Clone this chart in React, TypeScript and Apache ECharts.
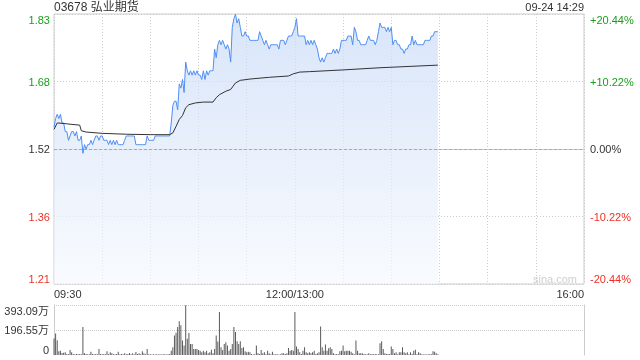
import React, { useEffect, useRef } from "react";
import * as echarts from "echarts";

const stockTitle = "03678 弘业期货";
const stampText = "09-24 14:29";
const prevClose = 1.52;
const limitPct = 20.44;
const totalMinutes = 330;

// minute-by-minute last price (09:30 ... 14:29)
const prices = [
  1.57, 1.59, 1.6, 1.59, 1.6, 1.58, 1.58, 1.56, 1.56, 1.54,
  1.55, 1.56, 1.56, 1.55, 1.56, 1.54, 1.54, 1.55, 1.51, 1.53,
  1.52, 1.53, 1.53, 1.54, 1.53, 1.54, 1.55, 1.55, 1.54, 1.55,
  1.55, 1.54, 1.54, 1.54, 1.53, 1.54, 1.53, 1.54, 1.53, 1.54,
  1.53, 1.53, 1.53, 1.53, 1.54, 1.55, 1.55, 1.55, 1.55, 1.55,
  1.55, 1.53, 1.53, 1.53, 1.53, 1.53, 1.53, 1.53, 1.55, 1.54,
  1.54, 1.54, 1.54, 1.55, 1.55, 1.55, 1.55, 1.55, 1.55, 1.55,
  1.55, 1.55, 1.55, 1.58, 1.62, 1.63, 1.63, 1.61, 1.67, 1.66,
  1.68, 1.65, 1.72, 1.7, 1.69, 1.7, 1.69, 1.7, 1.69, 1.7,
  1.69, 1.69, 1.68, 1.7, 1.68, 1.7, 1.69, 1.7, 1.7, 1.7,
  1.75, 1.73, 1.76, 1.77, 1.76, 1.77, 1.76, 1.75, 1.76, 1.75,
  1.72, 1.8, 1.82, 1.83, 1.81, 1.82, 1.8, 1.78, 1.78, 1.79,
  1.78, 1.78, 1.77, 1.77, 1.77, 1.77, 1.77, 1.77, 1.79, 1.78,
  1.77, 1.76, 1.77, 1.76, 1.75, 1.76, 1.76, 1.76, 1.76, 1.76,
  1.75, 1.77, 1.77, 1.77, 1.76, 1.77, 1.78, 1.78, 1.78, 1.79,
  1.8, 1.82, 1.78, 1.78, 1.78, 1.78, 1.78, 1.76, 1.77, 1.76,
  1.77, 1.76, 1.77, 1.76, 1.75, 1.73, 1.72, 1.73, 1.72, 1.73,
  1.74, 1.74, 1.74, 1.74, 1.75, 1.74, 1.75, 1.74, 1.75, 1.77,
  1.77, 1.77, 1.77, 1.78, 1.78, 1.78, 1.76, 1.8, 1.79, 1.77,
  1.77, 1.76, 1.76, 1.76, 1.76, 1.77, 1.78, 1.77, 1.77, 1.77,
  1.76, 1.77, 1.79, 1.81, 1.8, 1.8, 1.8, 1.79, 1.8, 1.79,
  1.8, 1.76, 1.77, 1.77, 1.76, 1.76, 1.75, 1.75, 1.74, 1.75,
  1.75, 1.76, 1.76, 1.78, 1.76, 1.77, 1.76, 1.76, 1.76, 1.76,
  1.76, 1.77, 1.77, 1.77, 1.77, 1.78, 1.78, 1.79, 1.79, 1.79,
];

// average price line, read at [minute, price]
const avgMinutes = [0, 2, 8, 10, 16, 17, 20, 30, 45, 60, 72, 74, 76, 78, 80, 82, 84, 88, 93, 99, 101, 103, 107, 110, 113, 116, 122, 134, 146, 149, 153, 159, 180, 203, 239];
const avgPrices = [1.565, 1.58, 1.578, 1.577, 1.575, 1.562, 1.559, 1.556, 1.554, 1.553, 1.553, 1.557, 1.572, 1.588, 1.597, 1.615, 1.622, 1.626, 1.628, 1.628, 1.638, 1.645, 1.653, 1.657, 1.672, 1.678, 1.681, 1.685, 1.688, 1.693, 1.697, 1.698, 1.702, 1.707, 1.713];

// minute volume, in 万
const volumes = [
  130, 170, 115, 30, 34, 16, 18, 21, 8, 6,
  40, 21, 8, 6, 8, 5, 8, 6, 220, 13,
  8, 5, 6, 26, 8, 5, 8, 6, 48, 8,
  6, 8, 5, 29, 8, 21, 13, 5, 6, 8,
  26, 5, 8, 6, 13, 5, 8, 16, 6, 13,
  5, 24, 8, 13, 6, 29, 13, 5, 48, 6,
  5, 4, 5, 4, 6, 4, 5, 4, 5, 6,
  4, 5, 8, 34, 61, 153, 175, 220, 265, 233,
  114, 74, 392, 127, 172, 87, 87, 48, 48, 48,
  40, 34, 21, 34, 21, 34, 13, 21, 42, 13,
  48, 153, 106, 339, 61, 40, 87, 100, 74, 34,
  48, 87, 220, 180, 108, 87, 108, 56, 61, 29,
  21, 26, 21, 8, 3, 6, 74, 13, 8, 40,
  13, 21, 6, 34, 13, 6, 26, 5, 6, 5,
  4, 6, 13, 13, 8, 13, 56, 34, 40, 34,
  339, 66, 48, 21, 8, 34, 61, 21, 13, 21,
  13, 21, 34, 8, 13, 21, 225, 61, 34, 82,
  34, 53, 61, 48, 13, 6, 8, 5, 29, 34,
  74, 29, 34, 34, 34, 26, 13, 6, 114, 34,
  13, 13, 13, 8, 5, 6, 13, 5, 8, 5,
  8, 6, 5, 93, 108, 48, 13, 8, 8, 8,
  66, 48, 13, 21, 6, 21, 21, 61, 21, 13,
  21, 6, 21, 8, 34, 42, 6, 21, 13, 5,
  4, 5, 4, 5, 6, 5, 29, 26, 13, 5,
];

const volMax = 393.09;
const volTickLabels = ["0", "196.55万", "393.09万"];
const timeTickLabels: Record<number, string> = { 0: "09:30", 150: "12:00/13:00", 330: "16:00" };

const GREEN = "#1a9f1a";
const RED = "#ee3124";
const FONT = "'Liberation Sans', Arial, 'Noto Sans CJK SC', sans-serif";

export default function App() {
  const ref = useRef<HTMLDivElement>(null);
  useEffect(() => {
    if (!ref.current) return;
    const chart = echarts.init(ref.current, undefined, { renderer: "svg" });
    const range = (prevClose * limitPct) / 100;
    const pIv = range / 2;
    const pctIv = limitPct / 2;
    const colorOf = (v: number) => (v > 1e-9 ? GREEN : v < -1e-9 ? RED : "#333");

    const priceData = prices.map((p, i) => [i, p - prevClose]);
    const avgData = avgMinutes.map((m, i) => [m, avgPrices[i] - prevClose]);
    const volData = volumes.map((v, i) => [i, v]);

    chart.setOption({
      animation: false,
      textStyle: { fontFamily: FONT },
      graphic: [
        { type: "text", left: 54, top: 1, style: { text: stockTitle, fontSize: 12, fill: "#333", fontFamily: FONT } },
        { type: "text", right: 56, top: 1, style: { text: stampText, fontSize: 11, fill: "#333", fontFamily: FONT } },
        { type: "text", left: 533, top: 273, style: { text: "sina.com", fontSize: 11, fill: "#cfcfcf", fontFamily: FONT } },
      ],
      grid: [
        { left: 54, right: 56, top: 14, height: 270, show: true, borderColor: "#cccccc", borderWidth: 1 },
        { left: 54, right: 56, top: 305, height: 50 },
      ],
      xAxis: [
        {
          type: "value", gridIndex: 0, min: 0, max: totalMinutes, interval: 30,
          axisLine: { show: true, lineStyle: { color: "#cccccc" } },
          axisTick: { show: false },
          splitLine: { show: true, lineStyle: { color: "#cccccc", type: [1, 2] } },
          axisLabel: {
            show: true, margin: 4, fontSize: 11, color: "#333", fontFamily: FONT,
            showMinLabel: true, showMaxLabel: true,
            alignMinLabel: "left", alignMaxLabel: "right",
            formatter: (v: number) => timeTickLabels[Math.round(v)] ?? "",
          },
        },
        {
          type: "value", gridIndex: 1, min: 0, max: totalMinutes, interval: 30,
          axisLine: { show: false }, axisTick: { show: false }, axisLabel: { show: false }, splitLine: { show: false },
        },
      ],
      yAxis: [
        {
          type: "value", gridIndex: 0, min: -2 * pIv, max: 2 * pIv, interval: pIv,
          axisLine: { show: false }, axisTick: { show: false },
          splitLine: { show: true, lineStyle: { color: ["#cccccc", "#cccccc", "rgba(0,0,0,0)", "#cccccc", "#cccccc"], type: [1, 2] } },
          axisLabel: {
            margin: 4, fontSize: 11, fontFamily: FONT,
            verticalAlignMinLabel: "bottom", verticalAlignMaxLabel: "top",
            formatter: (v: number) => (prevClose + v).toFixed(2),
            color: (v: any) => colorOf(Number(v)),
          },
        },
        {
          type: "value", gridIndex: 0, position: "right", min: -2 * pctIv, max: 2 * pctIv, interval: pctIv,
          axisLine: { show: false }, axisTick: { show: false }, splitLine: { show: false },
          axisLabel: {
            margin: 6, fontSize: 11, fontFamily: FONT,
            verticalAlignMinLabel: "bottom", verticalAlignMaxLabel: "top",
            formatter: (v: number) => {
              const r = Math.round(v * 100) / 100;
              if (Math.abs(r) < 1e-9) return "0.00%";
              return (r > 0 ? "+" : "") + r.toFixed(2) + "%";
            },
            color: (v: any) => colorOf(Number(v)),
          },
        },
        {
          type: "value", gridIndex: 1, min: 0, max: volMax, interval: volMax / 2,
          axisLine: { show: true, lineStyle: { color: "#cccccc" } }, axisTick: { show: false },
          splitLine: { show: true, lineStyle: { color: ["rgba(0,0,0,0)", "#cccccc", "#cccccc"], type: [1, 1] } },
          axisLabel: {
            margin: 5, fontSize: 11, color: "#333", fontFamily: FONT,
            verticalAlignMinLabel: "bottom", verticalAlignMaxLabel: "top",
            formatter: (v: number) => volTickLabels[Math.round(v / (volMax / 2))] ?? "",
          },
        },
        {
          type: "value", gridIndex: 1, position: "right", min: 0, max: 1,
          axisLine: { show: true, lineStyle: { color: "#cccccc" } }, axisTick: { show: false },
          axisLabel: { show: false }, splitLine: { show: false },
        },
      ],
      series: [
        {
          type: "line", xAxisIndex: 0, yAxisIndex: 0, data: priceData, showSymbol: false, symbol: "none",
          lineStyle: { color: "#4f8ef5", width: 1 },
          areaStyle: {
            origin: "start",
            color: new echarts.graphic.LinearGradient(0, 0, 0, 1, [
              { offset: 0, color: "#c8daf7" },
              { offset: 1, color: "#f6f9fe" },
            ]),
          },
          markLine: {
            silent: true, symbol: "none", label: { show: false },
            lineStyle: { color: "#aaaaaa", type: [3, 2], width: 1 },
            data: [{ yAxis: 0 }],
          },
          z: 3,
        },
        {
          type: "line", xAxisIndex: 0, yAxisIndex: 0, data: avgData, showSymbol: false, symbol: "none",
          lineStyle: { color: "#333333", width: 1 }, z: 4,
        },
        {
          type: "bar", xAxisIndex: 1, yAxisIndex: 2, data: volData, barWidth: 1,
          itemStyle: { color: "#5a5a5a" },
        },
      ],
    });
    return () => chart.dispose();
  }, []);
  return <div ref={ref} style={{ position: "fixed", left: 0, top: 0, width: 640, height: 360 }} />;
}
